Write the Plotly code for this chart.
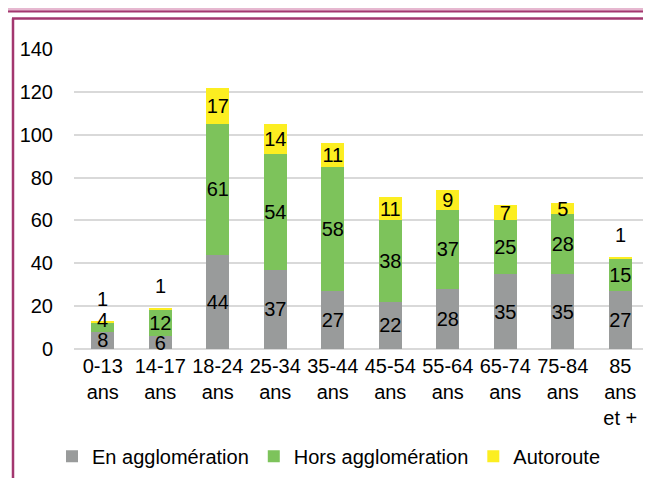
import plotly.graph_objects as go

categories = ["0-13<br>ans", "14-17<br>ans", "18-24<br>ans", "25-34<br>ans", "35-44<br>ans",
              "45-54<br>ans", "55-64<br>ans", "65-74<br>ans", "75-84<br>ans", "85<br>ans<br>et +"]
en_agglo = [8, 6, 44, 37, 27, 22, 28, 35, 35, 27]
hors_agglo = [4, 12, 61, 54, 58, 38, 37, 25, 28, 15]
autoroute = [1, 1, 17, 14, 11, 11, 9, 7, 5, 1]
y_ticks = [0, 20, 40, 60, 80, 100, 120, 140]

W, H = 651, 478
L, R, T, B = 66, 10, 41, 132
PW, PH = W - L - R, H - T - B

def px(x):
    return (x - L) / PW

def py(y):
    return (H - B - y) / PH

FONT = "Liberation Sans, Arial, sans-serif"
FS = 20
GREY = "#999b9b"
GREEN = "#7dc35b"
YELLOW = "#fcee21"
MAGENTA = "#a3376f"

tf = dict(family=FONT, size=FS, color="black")

fig = go.Figure()
common = dict(textposition="inside", insidetextanchor="middle", constraintext="none",
              textangle=0, textfont=tf, cliponaxis=False)
fig.add_trace(go.Bar(x=categories, y=en_agglo, name="En agglomération", marker_color=GREY,
                     marker_line_width=0, text=en_agglo, **common))
# very thin green segments: label sits on the segment's base (as in the reference)
hors_inside = [str(v) if v >= 5 else "" for v in hors_agglo]
fig.add_trace(go.Bar(x=categories, y=hors_agglo, name="Hors agglomération", marker_color=GREEN,
                     marker_line_width=0, text=hors_inside, **common))
# thin Autoroute segments get their label placed above the bar (as in the reference)
auto_inside = [str(v) if v > 1 else "" for v in autoroute]
fig.add_trace(go.Bar(x=categories, y=autoroute, name="Autoroute", marker_color=YELLOW,
                     marker_line_width=0, text=auto_inside, **common))

totals = [a + b + c for a, b, c in zip(en_agglo, hors_agglo, autoroute)]
annotations = [
    dict(x=cat, y=tot, xref="x", yref="y", text=str(v), showarrow=False,
         yanchor="bottom", yshift=9, font=tf)
    for cat, tot, v in zip(categories, totals, autoroute) if v <= 1
] + [
    dict(x=cat, y=base, xref="x", yref="y", text=str(v), showarrow=False,
         yanchor="bottom", yshift=-1, font=tf)
    for cat, base, v in zip(categories, en_agglo, hors_agglo) if v < 5
]

fig.update_layout(
    width=W, height=H,
    margin=dict(l=L, r=R, t=T, b=B),
    barmode="stack", bargap=0.6,
    plot_bgcolor="white", paper_bgcolor="white",
    font=tf,
    showlegend=True,
    legend=dict(orientation="h", x=px(44), xanchor="left", y=py(455), yanchor="middle",
                font=tf, traceorder="normal", itemwidth=30, tracegroupgap=0),
    xaxis=dict(showgrid=False, showline=False, ticks="", tickangle=0, tickfont=tf,
               ticklabelstandoff=3),
    yaxis=dict(range=[0, 140], tickvals=y_ticks, showgrid=True, gridcolor="#d9d9d9", gridwidth=1.5,
               zeroline=True, zerolinecolor="#d9d9d9", zerolinewidth=1.5, showline=False,
               ticks="", ticklabelstandoff=20, tickfont=tf),
    annotations=annotations,
    shapes=[
        dict(type="rect", xref="paper", yref="paper", x0=px(-2), x1=px(W + 2), y0=py(-2), y1=py(3),
             fillcolor="#e6b8d0", line=dict(color=MAGENTA, width=2), layer="above"),
        dict(type="line", xref="paper", yref="paper", x0=px(4), x1=px(W + 2), y0=py(10), y1=py(10),
             line=dict(color=MAGENTA, width=2.5)),
        dict(type="line", xref="paper", yref="paper", x0=px(5), x1=px(5), y0=py(10), y1=py(H + 2),
             line=dict(color=MAGENTA, width=2.5)),
    ],
)

fig.write_html("out.html")
